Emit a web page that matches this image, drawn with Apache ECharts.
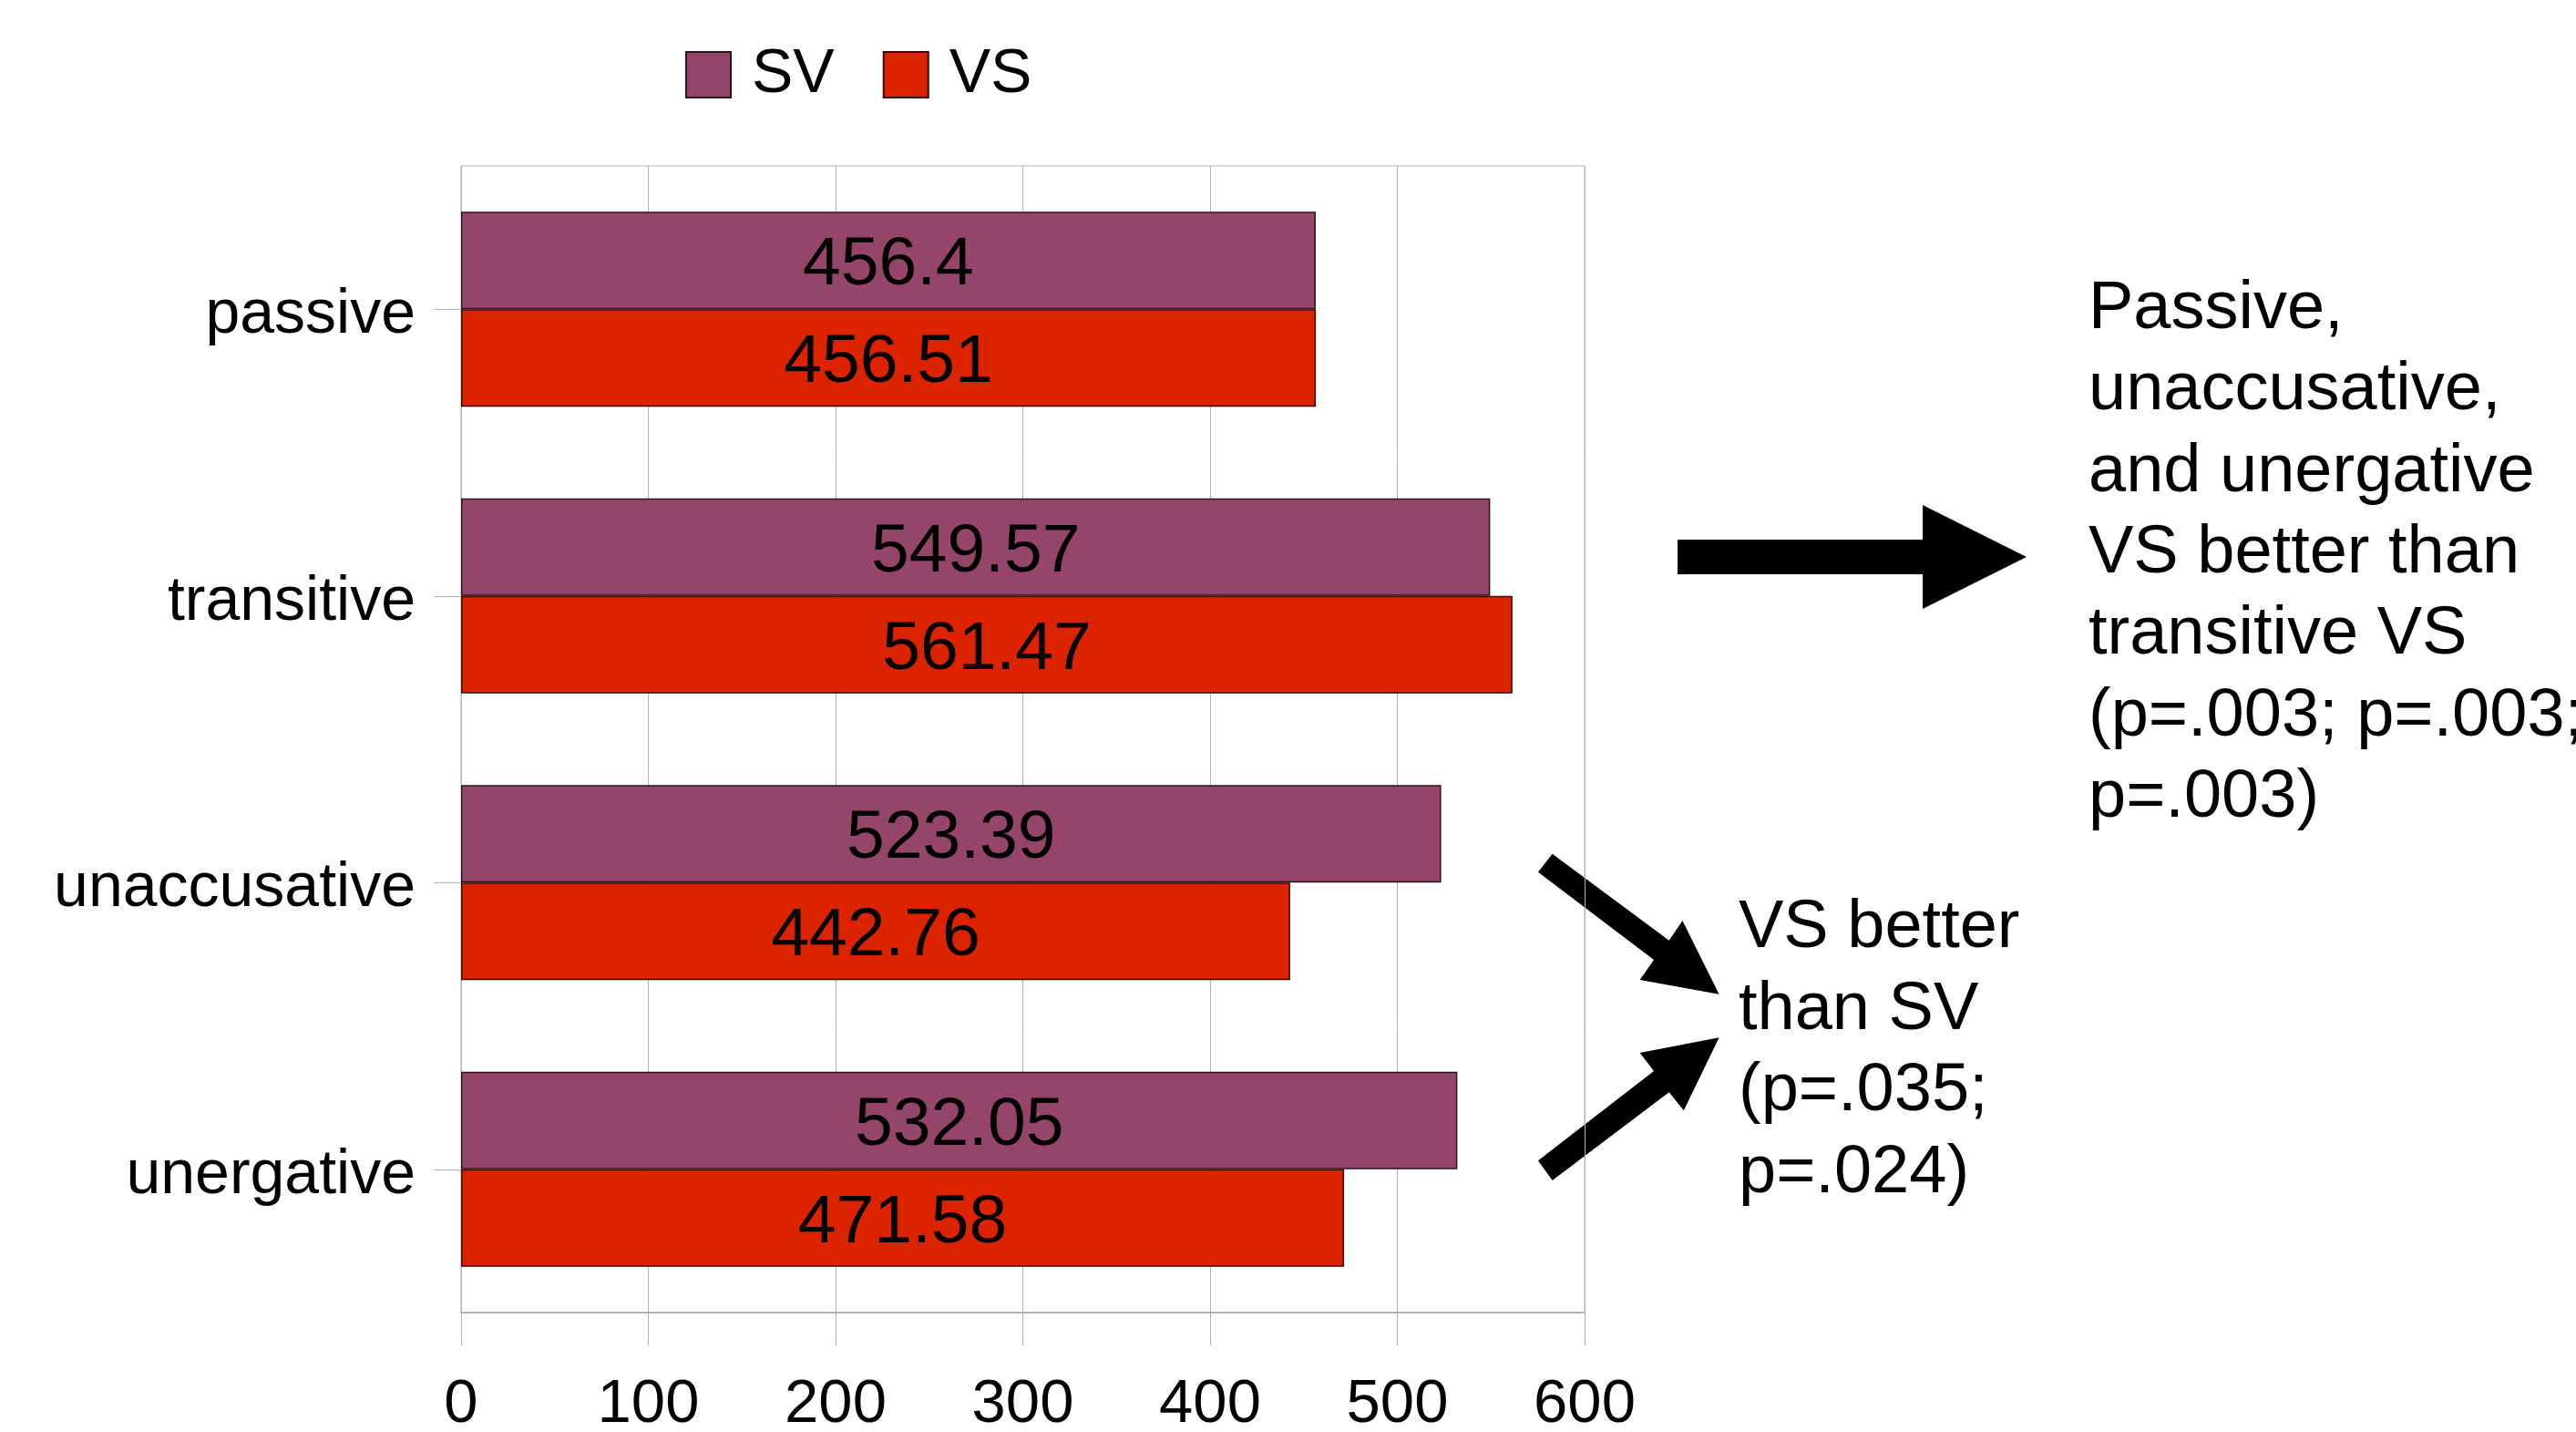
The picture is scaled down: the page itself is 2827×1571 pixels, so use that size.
<!DOCTYPE html>
<html>
<head>
<meta charset="utf-8">
<script src="https://cdn.jsdelivr.net/npm/echarts@6/dist/echarts.min.js"></script>
<style>
html,body{margin:0;padding:0;background:#fff;}
#chart{width:2827px;height:1571px;}
</style>
</head>
<body>
<div id="chart"></div>
<script>
const categories = ['passive', 'transitive', 'unaccusative', 'unergative'];
const seriesNames = ['SV', 'VS'];
const svValues = [456.4, 549.57, 523.39, 532.05];
const vsValues = [456.51, 561.47, 442.76, 471.58];
const axisMin = 0;
const axisMax = 600;
const axisStep = 100;
const noteMain = ['Passive,', 'unaccusative,', 'and unergative', 'VS better than', 'transitive VS', '(p=.003; p=.003;', 'p=.003)'];
const noteSide = ['VS better', 'than SV', '(p=.035;', 'p=.024)'];

const FONT = '"Liberation Sans", Arial, sans-serif';
const GRID_COLOR = '#b3b3b3';

const chart = echarts.init(document.getElementById('chart'), null, {renderer: 'canvas'});

const option = {
  backgroundColor: '#ffffff',
  animation: false,
  textStyle: {fontFamily: FONT, color: '#000'},
  legend: {
    data: seriesNames,
    left: 752,
    top: 48,
    padding: 0,
    icon: 'rect',
    itemWidth: 49,
    itemHeight: 50,
    itemGap: 53,
    textStyle: {fontFamily: FONT, fontSize: 68, color: '#000', lineHeight: 50, padding: [6, 0, 0, 18]}
  },
  grid: {
    left: 506,
    right: 1088,
    top: 182,
    bottom: 131,
    containLabel: false,
    outerBoundsMode: 'none',
    show: true,
    borderColor: GRID_COLOR,
    borderWidth: 1
  },
  xAxis: {
    type: 'value',
    min: axisMin,
    max: axisMax,
    interval: axisStep,
    axisLine: {show: true, lineStyle: {color: GRID_COLOR, width: 2}},
    axisTick: {show: true, length: 36, lineStyle: {color: GRID_COLOR}},
    splitLine: {show: true, lineStyle: {color: GRID_COLOR, width: 1}},
    axisLabel: {fontFamily: FONT, fontSize: 67, color: '#000', margin: 68}
  },
  yAxis: {
    type: 'category',
    data: categories,
    inverse: true,
    axisLine: {show: true, lineStyle: {color: GRID_COLOR}},
    axisTick: {show: true, length: 30, alignWithLabel: true, lineStyle: {color: GRID_COLOR}},
    splitLine: {show: false},
    axisLabel: {
      margin: 50,
      formatter: '{c|{value}}',
      rich: {c: {fontFamily: FONT, fontSize: 68, color: '#000', padding: [14, 0, 0, 0]}}
    }
  },
  series: [
    {
      name: seriesNames[0],
      type: 'bar',
      data: svValues,
      barGap: '0%',
      barCategoryGap: '32%',
      itemStyle: {color: '#954569', borderColor: '#2a1520', borderWidth: 1.5},
      label: {show: true, position: 'inside', offset: [0, 6], fontFamily: FONT, fontSize: 75, color: '#000'}
    },
    {
      name: seriesNames[1],
      type: 'bar',
      data: vsValues,
      barGap: '0%',
      barCategoryGap: '32%',
      itemStyle: {color: '#dc2300', borderColor: '#3a0a00', borderWidth: 1.5},
      label: {show: true, position: 'inside', offset: [0, 6], fontFamily: FONT, fontSize: 75, color: '#000'}
    }
  ],
  graphic: [
    {
      type: 'polygon',
      shape: {points: [[1841, 592], [2110, 592], [2110, 554], [2224, 611], [2110, 668], [2110, 630], [1841, 630]]},
      style: {fill: '#000'}
    },
    {
      type: 'polygon',
      shape: {points: [[1703.6, 936.7], [1831.7, 1031.7], [1846.4, 1010], [1886.6, 1090.7], [1799.6, 1075], [1815, 1053], [1688, 956.7]]},
      style: {fill: '#000'}
    },
    {
      type: 'polygon',
      shape: {points: [[1688, 1273.3], [1815, 1175], [1799.6, 1155], [1886.6, 1138.3], [1847.8, 1218.3], [1831.7, 1198.3], [1703.6, 1295]]},
      style: {fill: '#000'}
    },
    {
      type: 'text',
      left: 2292,
      top: 295,
      style: {text: noteMain.join('\n'), font: '74px ' + FONT, fill: '#000', lineHeight: 89.3}
    },
    {
      type: 'text',
      left: 1908,
      top: 974,
      style: {text: noteSide.join('\n'), font: '74px ' + FONT, fill: '#000', lineHeight: 89.5}
    }
  ]
};

chart.setOption(option);
</script>
</body>
</html>
